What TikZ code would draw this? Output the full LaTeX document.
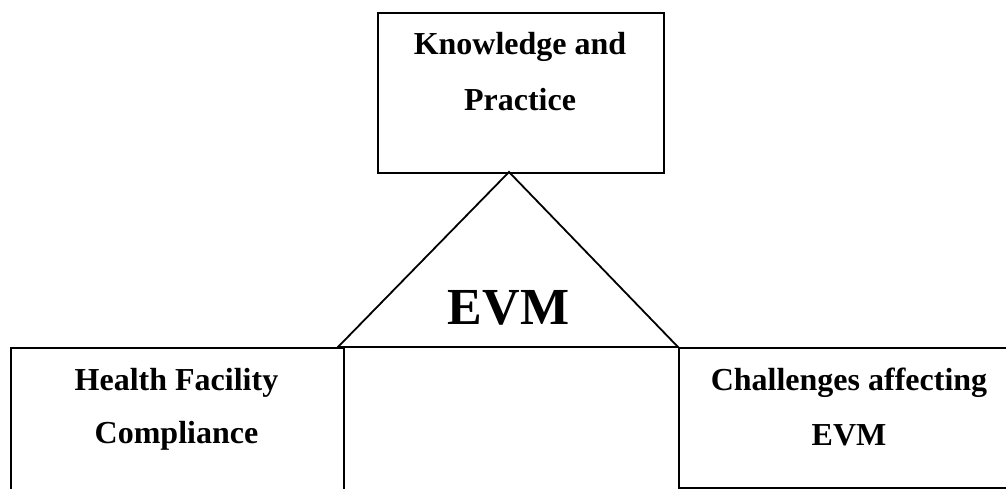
\documentclass[tikz,border=0pt]{standalone}
\usepackage{fontspec}
\setmainfont{Liberation Serif}
\begin{document}
\begin{tikzpicture}[x=1pt,y=-1pt,
  box/.style={draw,line width=1.8pt,inner sep=0pt,anchor=north west},
  lbl/.style={anchor=base,inner sep=0pt,font=\fontsize{32}{38}\selectfont\bfseries},
  big/.style={anchor=base,inner sep=0pt,font=\fontsize{52}{60}\selectfont\bfseries}]
\useasboundingbox (0,0) rectangle (1006,488);
\clip (0,0) rectangle (1006,488);
% boxes
\node[box,minimum width=286pt,minimum height=160pt] (top) at (377,12) {};
\node[box,minimum width=333pt,minimum height=200pt] (left) at (10,347) {};
\node[box,minimum width=342pt,minimum height=140pt] (right) at (678,347) {};
% triangle
\coordinate (apex) at (509,172);
\coordinate (bl) at (338,347);
\coordinate (br) at (678,347);
\draw[line width=1.8pt,line join=miter] (bl) -- (apex) -- (br) -- cycle;
% labels
\node[lbl] (kp1) at (520,54) {Knowledge and};
\node[lbl] (kp2) at (520,110) {Practice};
\node[lbl] (hf1) at (176.5,390) {Health Facility};
\node[lbl] (hf2) at (176.5,443) {Compliance};
\node[lbl] (ch1) at (849,390) {Challenges affecting};
\node[lbl] (ch2) at (849,445) {EVM};
\node[big] (evm) at (508.5,324) {EVM};
\end{tikzpicture}
\end{document}
